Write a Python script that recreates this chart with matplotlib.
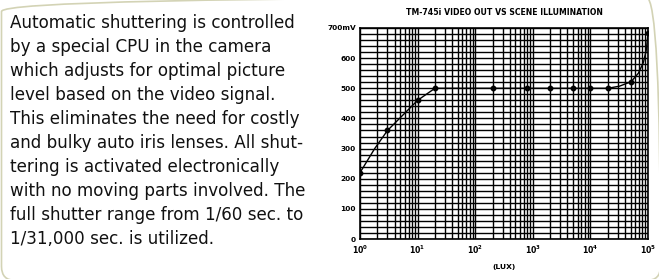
"""Video out vs scene illumination, with the description text at left."""

import matplotlib
matplotlib.use("Agg")
import matplotlib.pyplot as plt
from matplotlib.patches import FancyBboxPatch
from matplotlib.ticker import FixedLocator, NullFormatter

# marked measurements (lux, mV)
lux_pts = [1, 3, 10, 20, 200, 800, 2000, 5000, 10000, 20000, 51000, 100000]
mv_pts = [220, 360, 460, 500, 500, 500, 500, 500, 500, 500, 522, 682]

# curve (includes the bend near 1e5 lux)
lux_curve = [1, 1.8, 3, 10, 20, 200, 800, 2000, 5000, 10000, 20000, 32000,
             51000, 68000, 83000, 93000, 100000]
mv_curve = [220, 300, 360, 460, 500, 500, 500, 500, 500, 500, 500, 507,
            522, 550, 585, 625, 682]

y_ticks = [0, 100, 200, 300, 400, 500, 600, 700]
y_labels = ["0", "100", "200", "300", "400", "500", "600", "700mV"]
x_ticks = [1, 10, 100, 1000, 10000, 100000]
x_labels = [r"$\mathbf{10^{%d}}$" % i for i in range(6)]

body = ("Automatic shuttering is controlled\n"
        "by a special CPU in the camera\n"
        "which adjusts for optimal picture\n"
        "level based on the video signal.\n"
        "This eliminates the need for costly\n"
        "and bulky auto iris lenses. All shut-\n"
        "tering is activated electronically\n"
        "with no moving parts involved. The\n"
        "full shutter range from 1/60 sec. to\n"
        "1/31,000 sec. is utilized.")

W, H = 659, 279
fig = plt.figure(figsize=(W / 100, H / 100), dpi=100)
fig.patch.set_facecolor("white")

# faint olive rounded frame; its straight edges sit on the image border
frame = FancyBboxPatch((0.015, -0.015), 6.59, 2.83,
                       boxstyle="round,pad=0,rounding_size=0.14",
                       transform=fig.dpi_scale_trans, fill=False,
                       edgecolor="#d3d3b5", lw=1.2, zorder=0)
fig.patches.append(frame)

fig.text(10 / W, 1 - 14 / H, body, ha="left", va="top", fontsize=12.1,
         color="#111111", linespacing=1.43, family="DejaVu Sans")

ax = fig.add_axes([360 / W, 1 - 239 / H, 288 / W, 211 / H])
ax.set_xscale("log")
ax.set_xlim(1, 1e5)
ax.set_ylim(0, 700)

# grid: every 20 mV horizontally, 1..9 per decade vertically
ax.yaxis.set_major_locator(FixedLocator(y_ticks))
ax.yaxis.set_minor_locator(FixedLocator(range(0, 701, 20)))
ax.xaxis.set_major_locator(FixedLocator(x_ticks))
ax.xaxis.set_minor_locator(FixedLocator(
    [m * 10 ** d for d in range(5) for m in range(2, 10)]))
ax.xaxis.set_minor_formatter(NullFormatter())
ax.grid(which="both", color="black", lw=1.0)
ax.set_axisbelow(True)
ax.tick_params(which="both", length=0, pad=3)
ax.set_yticklabels(y_labels, fontsize=5.3, fontweight="bold")
ax.set_xticklabels(x_labels, fontsize=5.6)
for s in ax.spines.values():
    s.set_linewidth(1.2)

ax.plot(lux_curve, mv_curve, color="black", lw=1.0)
ax.plot(lux_pts, mv_pts, "o", color="black", ms=3.2)

ax.set_title("TM-745i VIDEO OUT VS SCENE ILLUMINATION", fontsize=5.6,
             fontweight="bold", pad=9)
ax.set_xlabel("(LUX)", fontsize=5.4, fontweight="bold", labelpad=6)

fig.savefig("out.png", dpi=100)
